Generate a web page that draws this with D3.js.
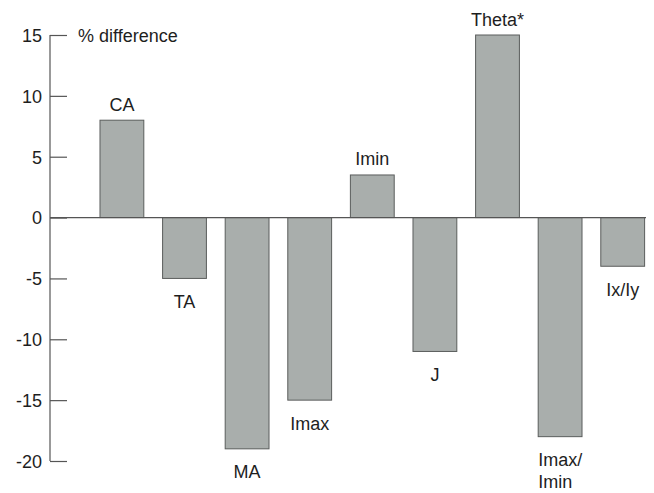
<!DOCTYPE html>
<html>
<head>
<meta charset="utf-8">
<script src="https://cdn.jsdelivr.net/npm/d3@7"></script>
<style>
  body { margin: 0; background: #fff; }
  text { font-family: "Liberation Sans", Arial, sans-serif; fill: #1e1e1e; }
</style>
</head>
<body>
<div id="chart"></div>
<script>
// data
var categories = ['CA', 'TA', 'MA', 'Imax', 'Imin', 'J', 'Theta*', 'Imax/Imin', 'Ix/Iy'];
var values = [8, -5, -19, -15, 3.5, -11, 15, -18, -4];
// label lines per bar (Imax/Imin is broken in two)
var labelLines = [['CA'], ['TA'], ['MA'], ['Imax'], ['Imin'], ['J'], ['Theta*'], ['Imax/', 'Imin'], ['Ix/Iy']];
var yTicks = [15, 10, 5, 0, -5, -10, -15, -20];
var yTitle = '% difference';

var width = 654, height = 493;
var fontSize = 18;

var svg = d3.select('#chart').append('svg')
    .attr('width', width)
    .attr('height', height);

// scales
var y = d3.scaleLinear().domain([-20, 15]).range([461, 35]);
var x = d3.scaleBand()
    .domain(categories)
    .range([90.6, 654])
    .paddingInner(0.3)
    .paddingOuter(0.15);

var axisX = 50;

// y axis: ticks point right into the plot
var yAxis = d3.axisRight(y)
    .tickValues(yTicks)
    .tickSize(17)
    .tickFormat(d3.format('d'));

var gy = svg.append('g')
    .attr('transform', 'translate(' + axisX + ',0)')
    .call(yAxis);
gy.select('.domain').remove();
gy.selectAll('.tick line').attr('stroke', '#555').attr('stroke-width', 1.2);
gy.selectAll('.tick text')
    .attr('x', -8)
    .attr('dy', '0.35em')
    .attr('text-anchor', 'end')
    .attr('font-size', fontSize)
    .text(function(d) { return d; });

svg.append('line')
    .attr('x1', axisX).attr('x2', axisX)
    .attr('y1', y(15)).attr('y2', y(-20))
    .attr('stroke', '#555').attr('stroke-width', 1.2);

svg.append('text')
    .attr('x', 78)
    .attr('y', y(15) + 6.5)
    .attr('font-size', fontSize)
    .text(yTitle);

// bars
svg.append('g').selectAll('rect')
    .data(values)
    .enter()
    .append('rect')
    .attr('x', function(d, i) { return x(categories[i]); })
    .attr('y', function(d) { return y(Math.max(0, d)); })
    .attr('width', x.bandwidth())
    .attr('height', function(d) { return Math.abs(y(d) - y(0)); })
    .attr('fill', '#a9aeac')
    .attr('stroke', '#5a5d5c')
    .attr('stroke-width', 1);

// zero line
svg.append('line')
    .attr('x1', axisX).attr('x2', 646)
    .attr('y1', y(0)).attr('y2', y(0))
    .attr('stroke', '#555').attr('stroke-width', 1.2);

// bar labels
var labels = svg.append('g').selectAll('text')
    .data(values)
    .enter()
    .append('text')
    .attr('font-size', fontSize)
    .attr('text-anchor', function(d, i) { return labelLines[i].length > 1 ? 'start' : 'middle'; })
    .attr('x', function(d, i) {
        return labelLines[i].length > 1 ? x(categories[i]) : x(categories[i]) + x.bandwidth() / 2;
    })
    .attr('y', function(d) { return d >= 0 ? y(d) - 9.5 : y(d) + 29.5; });

labels.selectAll('tspan')
    .data(function(d, i) { return labelLines[i]; })
    .enter()
    .append('tspan')
    .attr('x', function() { return d3.select(this.parentNode).attr('x'); })
    .attr('dy', function(d, j) { return j === 0 ? 0 : 22; })
    .text(function(d) { return d; });
</script>
</body>
</html>
